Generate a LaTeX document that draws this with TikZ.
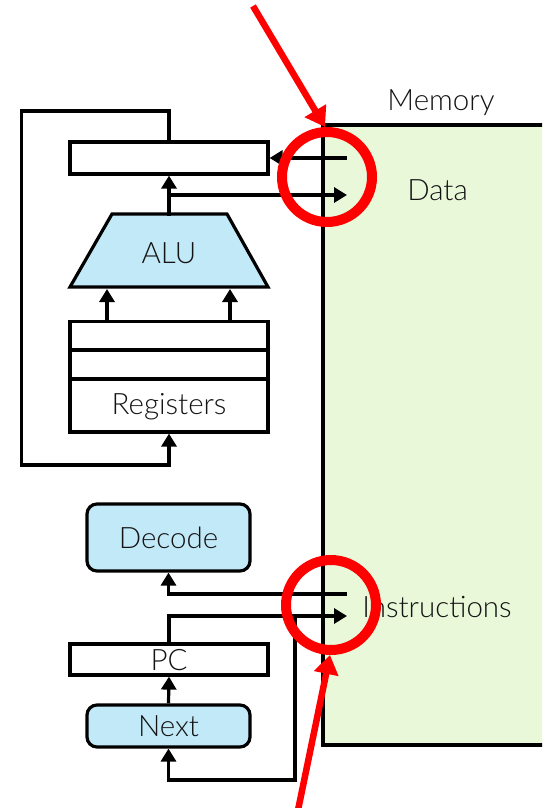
\documentclass[tikz,border=0pt]{standalone}
\usepackage{fontspec}
\IfFontExistsTF{Lato Light}{\setmainfont{Lato Light}}{\setmainfont{Lato}}
\usetikzlibrary{arrows.meta}
\definecolor{memgreen}{HTML}{EAF8DA}
\definecolor{unitblue}{HTML}{C2E9F8}
\definecolor{hlred}{HTML}{FF0000}
\tikzset{
  wire/.style={line width=3.2pt, draw=black},
  arr/.style={wire, -{Triangle[length=13pt,width=15pt]}},
  regbox/.style={draw=black, line width=3.2pt, fill=white, minimum width=198pt, inner sep=0pt, outer sep=1.6pt},
  unitbox/.style={draw=black, line width=3.2pt, fill=unitblue, rounded corners=10pt, minimum width=163pt, inner sep=0pt, outer sep=1.6pt},
  lbl/.style={font=\fontsize{29.5}{32}\selectfont, inner sep=0pt, anchor=base, text=black!92},
  hlcircle/.style={circle, draw=hlred, line width=10pt, minimum size=90pt, inner sep=0pt},
  hlarrow/.style={draw=hlred, line width=6.5pt, -{Triangle[length=19pt,width=24pt]}}
}
\begin{document}
\begin{tikzpicture}[x=1pt,y=-1pt]
\useasboundingbox (0,0) rectangle (542,808);
\clip (0,0) rectangle (542,808);
% memory
\node[draw=black, line width=3.2pt, fill=memgreen, minimum width=247pt, minimum height=620pt, inner sep=0pt] (mem) at (446.5,435) {};
\node[lbl] (memlabel) at (441,110) {Memory};
\node[lbl] (data) at (437.5,200) {Data};
\node[lbl] (instr) at (437,617) {Instructions};
% data register
\node[regbox, minimum height=32pt] (mdr) at (169,158) {};
% ALU
\coordinate (aluBL) at (70,287);
\coordinate (aluTL) at (112,214);
\coordinate (aluTR) at (227,214);
\coordinate (aluBR) at (268,287);
\filldraw[wire, fill=unitblue, line join=miter] (aluBL) -- (aluTL) -- (aluTR) -- (aluBR) -- cycle;
\node[lbl] (alu) at (169,263.5) {ALU};
\coordinate (alutop) at (169,215.5);
\coordinate (aluL) at (107,289);
\coordinate (aluR) at (230,289);
% registers
\node[regbox, minimum height=28.5pt] (r1) at (169,336) {};
\node[regbox, minimum height=29pt] (r2) at (169,364.5) {};
\node[regbox, minimum height=53pt] (r3) at (169,405.5) {};
\node[lbl] (reglabel) at (169,414) {Registers};
% decode, pc, next
\node[unitbox, minimum height=67pt] (decode) at (168.5,537.5) {};
\node[lbl] (decodelabel) at (168.5,548) {Decode};
\node[regbox, minimum height=31pt] (pc) at (169,659.5) {};
\node[lbl] (pclabel) at (169,670) {PC};
\node[unitbox, minimum height=42pt] (next) at (168.5,726) {};
\node[lbl] (nextlabel) at (168.5,736.5) {Next};
% coordinates for wires
\coordinate (lt) at (21.5,111);
\coordinate (lb) at (21.5,465);
\coordinate (dIn) at (347,158);
\coordinate (dOut) at (347,195);
\coordinate (iOut) at (347,594);
\coordinate (iIn) at (347,616);
\coordinate (lp) at (295,616);
\coordinate (lpb) at (295,780);
% wires
\draw[arr] (mdr.north) |- (lt) -- (lb) -| (r3.south);
\draw[arr] (dIn) -- (mdr.east);
\draw[arr] (alutop) -- (mdr.south);
\draw[arr] (alutop) |- (dOut);
\draw[arr] (r1.north -| aluL) -- (aluL);
\draw[arr] (r1.north -| aluR) -- (aluR);
\draw[arr] (iOut) -| (decode.south);
\draw[arr] (pc.north) |- (iIn);
\draw[arr] (next.north) -- (pc.south);
\draw[arr] (lp) -- (lpb) -| (next.south);
% highlights
\node[hlcircle] (c1) at (327,177) {};
\node[hlcircle] (c2) at (331,605) {};
\coordinate (a1s) at (253,6);
\coordinate (a1t) at (325,127);
\coordinate (a2s) at (297,815);
\coordinate (a2t) at (330,655);
\draw[hlarrow] (a1s) -- (a1t);
\draw[hlarrow] (a2s) -- (a2t);
\end{tikzpicture}
\end{document}
